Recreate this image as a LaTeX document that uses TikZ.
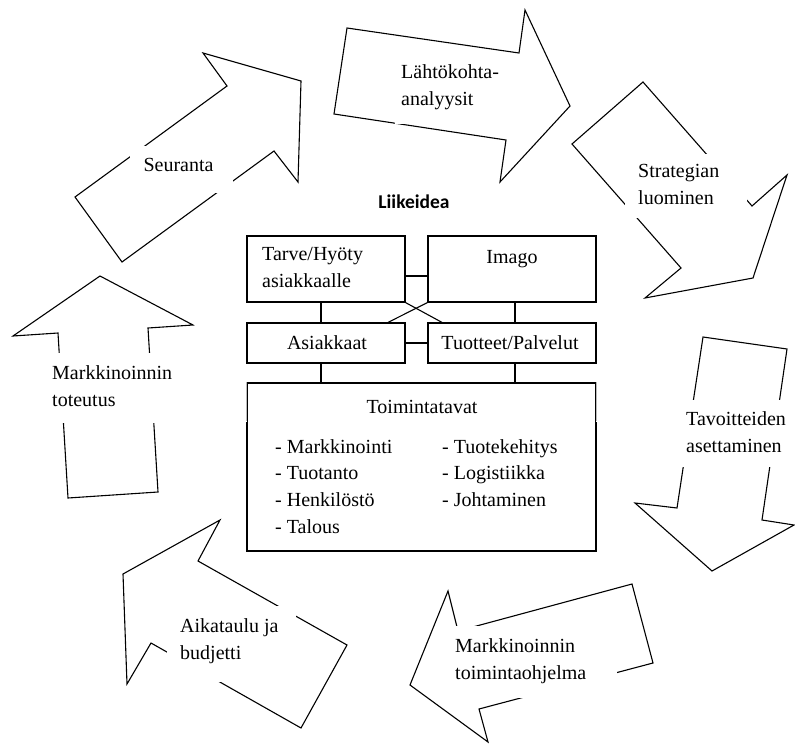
\documentclass[tikz,border=0pt]{standalone}
\usepackage{fontspec}
\setmainfont{Liberation Serif}
\newfontfamily\headfont{Carlito}
\usetikzlibrary{calc}

\begin{document}
\begin{tikzpicture}[x=1pt,y=-1pt,
  bigarrow/.style={draw=black,line width=1.1pt,line join=miter},
  gapbox/.style={fill=white},
  lbl/.style={font=\fontsize{20}{27}\selectfont,align=left,inner sep=0pt},
  onel/.style={font=\fontsize{20}{27}\selectfont,inner sep=0pt},
  ideabox/.style={draw=black,line width=1.2pt,inner sep=0pt},
  link/.style={draw=black,line width=1.1pt}]
\useasboundingbox (0,0) rectangle (795,744);

% ---- cycle of block arrows ----
% Seuranta
\draw[bigarrow] (75,197) -- (227,86) -- (203,53) -- (301,81) -- (298,182) -- (274,151) -- (122,262) -- cycle;
\fill[gapbox] (130,146) rectangle (233,193);
\node[onel,anchor=base] (seuranta) at (178.5,171) {Seuranta};

% Lahtokohta-analyysit
\draw[bigarrow] (347,28) -- (519,53) -- (525,10) -- (570,106) -- (500,182) -- (506,140) -- (334,114) -- cycle;
\fill[gapbox] (395,58) rectangle (500,124);
\node[lbl,anchor=west] (lahto) at (401,87) {Lähtökohta-\\analyysit};

% Strategian luominen
\draw[bigarrow] (643,82) -- (752,206) -- (787,175) -- (753,278) -- (645,298) -- (681,268) -- (572,144) -- cycle;
\fill[gapbox] (625,154) rectangle (747,218);
\node[lbl,anchor=west] (strat) at (638,184.7) {Strategian\\luominen};

% Tavoitteiden asettaminen
\draw[bigarrow] (703,337) -- (787,349) -- (762,520) -- (794,525) -- (712,571) -- (635,503) -- (677,508) -- cycle;
\fill[gapbox] (672,400) rectangle (792,467);
\node[lbl,anchor=west] (tavo) at (686,432.5) {Tavoitteiden\\asettaminen};

% Markkinoinnin toimintaohjelma
\draw[bigarrow] (632,584) -- (653,663) -- (479,709) -- (488,742) -- (410,685) -- (448,591) -- (458,631) -- cycle;
\fill[gapbox] (450,626) rectangle (617,698);
\node[lbl,anchor=west] (ohjelma) at (455,661) {Markkinoinnin\\toimintaohjelma};

% Aikataulu ja budjetti
\draw[bigarrow] (220,520) -- (198,561) -- (347,645) -- (301,728) -- (151,643) -- (127,684) -- (123,574) -- cycle;
\fill[gapbox] (167,606) rectangle (296,682);
\node[lbl,anchor=west] (aika) at (180,641) {Aikataulu ja\\budjetti};

% Markkinoinnin toteutus
\draw[bigarrow] (100,276) -- (193,325) -- (148,328) -- (158,492) -- (68,498) -- (58,333) -- (13,336) -- cycle;
\fill[gapbox] (45,353) rectangle (175,423);
\node[lbl,anchor=west] (toteutus) at (52,385.7) {Markkinoinnin\\toteutus};

% ---- business idea in the middle ----
\node[font=\headfont\bfseries\fontsize{19.5}{22}\selectfont,inner sep=0pt] (idea) at (414,201.5) {Liikeidea};

\node[ideabox,minimum width=158pt,minimum height=66pt] (tarve) at (326,269) {};
\node[ideabox,minimum width=168pt,minimum height=66pt] (imago) at (512,269) {};
\node[ideabox,minimum width=158pt,minimum height=40pt] (asiak) at (326,343) {};
\node[ideabox,minimum width=168pt,minimum height=40pt] (tuot) at (512,343) {};
\node[ideabox,minimum width=349pt,minimum height=168pt] (toim) at (421.5,467) {};

% lighter upper parts of the side edges
\draw[white,line width=1.6pt] (toim.north west) ++(0,1.5) -- ++(0,38);
\draw[white,line width=1.6pt] (toim.north east) ++(0,1.5) -- ++(0,38);
\draw[gray!55,line width=0.7pt] (toim.north west) -- ++(0,39);
\draw[gray!55,line width=0.7pt] (toim.north east) -- ++(0,39);

\node[lbl,anchor=west] (tarvet) at (262,268) {Tarve/Hyöty\\asiakkaalle};
\node[onel,anchor=base] (imagot) at (512,263) {Imago};
\node[onel,anchor=base] (asiakt) at (327,349) {Asiakkaat};
\node[onel,anchor=base] (tuott) at (510,349) {Tuotteet/Palvelut};
\node[onel,anchor=base] (toimt) at (422,413) {Toimintatavat};

\foreach \t [count=\i] in {Markkinointi,Tuotanto,Henkilöstö,Talous}
  \node[onel,anchor=base west] (vas\i) at (275,426.3+26.7*\i) {- \t};
\foreach \t [count=\i] in {Tuotekehitys,Logistiikka,Johtaminen}
  \node[onel,anchor=base west] (oik\i) at (442,426.3+26.7*\i) {- \t};

% connectors between the boxes
\draw[link] (tarve.east |- 0,276) -- (imago.west |- 0,276);
\draw[link] (asiak.east) -- (tuot.west);
\draw[link] (321,0 |- tarve.south) -- (321,0 |- asiak.north);
\draw[link] (515,0 |- imago.south) -- (515,0 |- tuot.north);
\draw[link] (321,0 |- asiak.south) -- (321,0 |- toim.north);
\draw[link] (515,0 |- tuot.south) -- (515,0 |- toim.north);
\draw[link] (tarve.south east) -- (442,0 |- tuot.north);
\draw[link] (imago.south west) -- (388,0 |- asiak.north);
\end{tikzpicture}
\end{document}
